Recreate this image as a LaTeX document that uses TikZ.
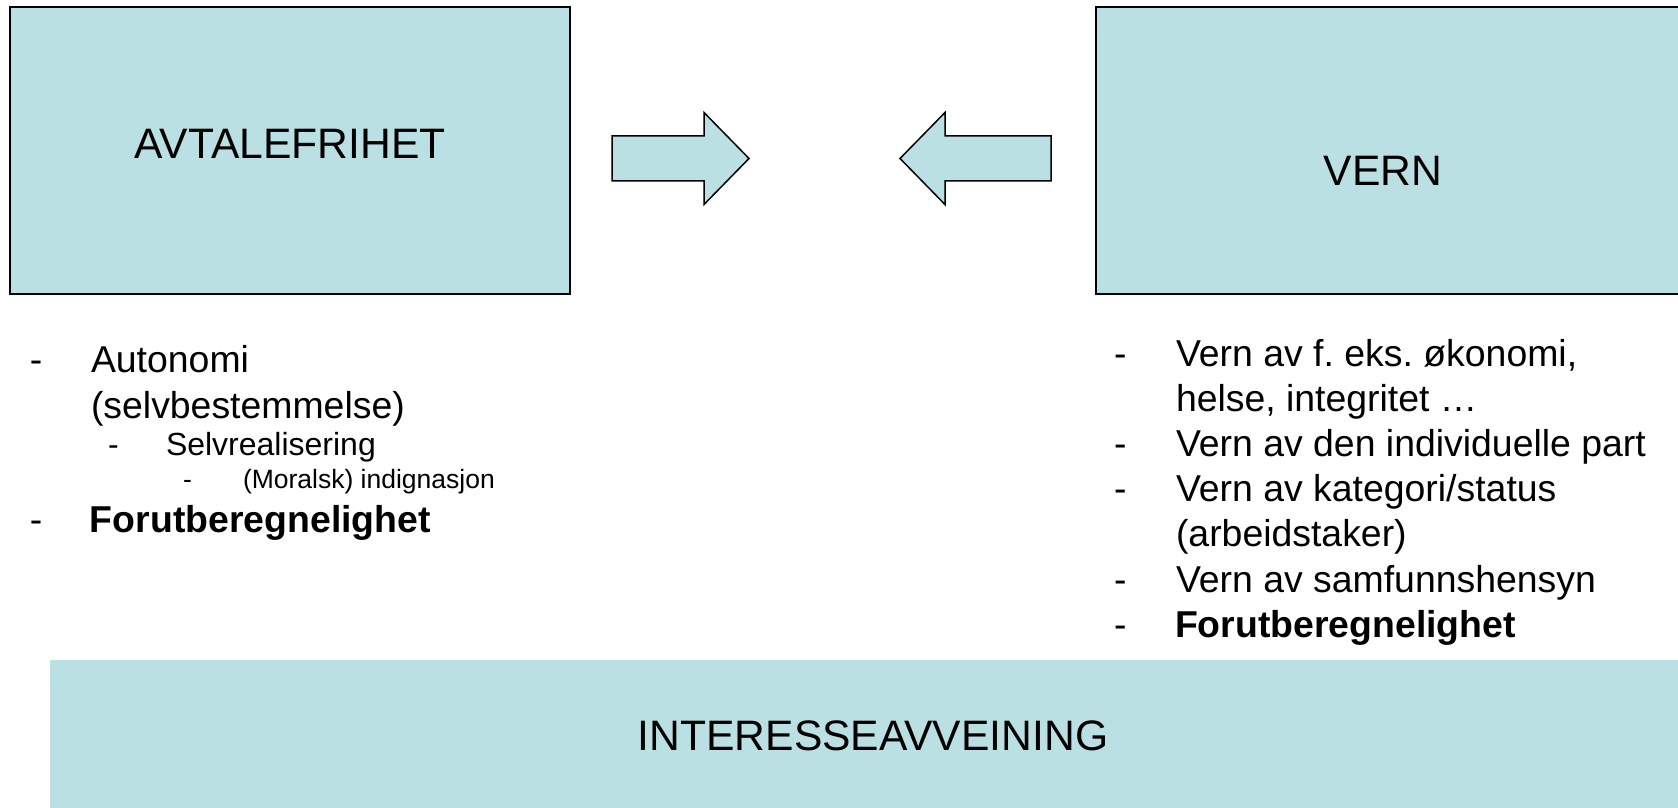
\documentclass[tikz,border=0pt]{standalone}
\usepackage{fontspec}
\setmainfont{Liberation Sans}
\frenchspacing
\definecolor{panelfill}{RGB}{187, 224, 227}
\usetikzlibrary{positioning}
\tikzset{
    every node/.style={inner sep=0pt, outer sep=0pt},
    panel/.style={fill=panelfill, draw=black, line width=1pt},
    blockarrow/.style={fill=panelfill, draw=black, line width=0.75pt,
        line join=miter},
    heading/.style={font=\fontsize{21.3}{25}\selectfont},
    item/.style={anchor=base west, font=\fontsize{18.7}{22.5}\selectfont},
    subitem/.style={anchor=base west, font=\fontsize{16}{19}\selectfont},
    subsubitem/.style={anchor=base west, font=\fontsize{13.25}{16}\selectfont},
}

\begin{document}
\begin{tikzpicture}[x=0.5pt, y=-0.5pt]
    \useasboundingbox (0, 0) rectangle (1678, 808);
    \clip (0, 0) rectangle (1678, 808);

    % the three boxes
    \draw[panel] (9.5, 7.5) rectangle (570, 294);
    \draw[panel] (1096, 7.5) rectangle (1700, 294);
    \fill[panelfill] (50, 660) rectangle (1700, 830);
    \node[heading] (avtale) at (290, 144) {AVTALEFRIHET};
    \node[heading] (vern) at (1383, 171) {VERN};
    \node[heading] (avveining) at (873, 736) {INTERESSEAVVEINING};

    % block arrows between the boxes
    \filldraw[blockarrow] (612, 136) -- (704, 136) -- (704, 112.5)
        -- (749, 158.5) -- (704, 204.5) -- (704, 181) -- (612, 181) -- cycle;
    \filldraw[blockarrow] (1051, 136) -- (945, 136) -- (945, 112.5)
        -- (900, 158.5) -- (945, 204.5) -- (945, 181) -- (1051, 181) -- cycle;

    % left list
    \node[item] (ldasha) at (30, 372) {-};
    \node[item] (autonomi) at (91, 372) {Autonomi};
    \node[item] (selvbest) at (91, 418) {(selvbestemmelse)};
    \node[subitem] (ldashb) at (108, 455) {-};
    \node[subitem] (selvreal) at (166, 455) {Selvrealisering};
    \node[subsubitem] (ldashc) at (183, 488) {-};
    \node[subsubitem] (moralsk) at (243, 488) {(Moralsk) indignasjon};
    \node[item] (ldashd) at (30, 532) {-};
    \node[item, font=\fontsize{18.7}{22.5}\selectfont\bfseries] (lforut)
        at (90, 532) {Forutberegnelighet};

    % right list
    \node[item] (rdasha) at (1114, 366) {-};
    \node[item] (okonomi) at (1176, 366) {Vern av f. eks. økonomi,};
    \node[item] (helse) at (1176, 411.2) {helse, integritet …};
    \node[item] (rdashb) at (1114, 456.4) {-};
    \node[item] (individ) at (1176, 456.4) {Vern av den individuelle part};
    \node[item] (rdashc) at (1114, 501.6) {-};
    \node[item] (kategori) at (1176, 501.6) {Vern av kategori/status};
    \node[item] (arbeid) at (1176, 546.8) {(arbeidstaker)};
    \node[item] (rdashd) at (1114, 592) {-};
    \node[item] (samfunn) at (1176, 592) {Vern av samfunnshensyn};
    \node[item] (rdashe) at (1114, 637.2) {-};
    \node[item, font=\fontsize{18.7}{22.5}\selectfont\bfseries] (rforut)
        at (1175, 637.2) {Forutberegnelighet};
\end{tikzpicture}
\end{document}
